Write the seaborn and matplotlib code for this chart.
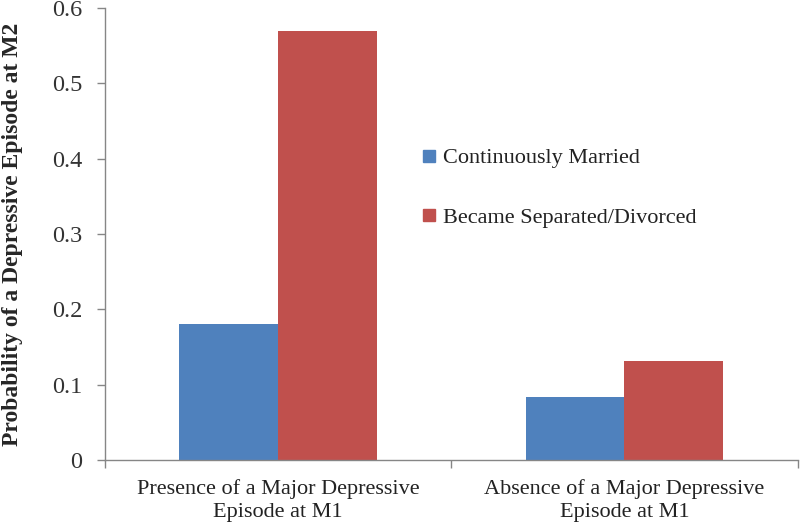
import matplotlib
matplotlib.use("Agg")
import matplotlib.pyplot as plt
import seaborn as sns
import pandas as pd
from matplotlib.lines import Line2D
from matplotlib.ticker import FixedLocator

categories = ["Presence of a Major Depressive\nEpisode at M1", "Absence of a Major Depressive\nEpisode at M1"]
groups = ["Continuously Married", "Became Separated/Divorced"]
married = [0.18, 0.083]
divorced = [0.57, 0.132]
colors = ["#4F81BD", "#C0504D"]

df = pd.DataFrame({
    "cat": categories * 2,
    "group": [groups[0]] * 2 + [groups[1]] * 2,
    "value": married + divorced,
})

sns.set_style("white")
plt.rcParams["font.family"] = ["Liberation Serif", "DejaVu Serif"]

fig = plt.figure(figsize=(8, 5.23), dpi=100)
ax = fig.add_axes([0.131, 0.1205, 0.866, 0.864])
sns.barplot(data=df, x="cat", y="value", hue="group", palette=colors,
            width=0.57, ax=ax, saturation=1, legend=False, linewidth=0)

ax.set_xlim(-0.5, 1.5)
ax.set_ylim(0, 0.6)
ax.set_yticks([0, 0.1, 0.2, 0.3, 0.4, 0.5, 0.6])
ax.set_yticklabels(["0", "0.1", "0.2", "0.3", "0.4", "0.5", "0.6"], fontsize=17.5, color="#333333")
ax.set_xticks([0, 1])
ax.set_xticklabels(categories, fontsize=16, color="#222222", linespacing=1.25)
ax.xaxis.set_minor_locator(FixedLocator([-0.5, 0.5, 1.5]))
ax.tick_params(axis="x", which="major", length=0, pad=14)
ax.tick_params(axis="x", which="minor", length=6, color="#868686", width=1, direction="out", bottom=True)
ax.tick_params(axis="y", length=6, color="#868686", width=1, direction="out", left=True, pad=10)
ax.set_xlabel("")
ax.set_ylabel("Probability of a Depressive Episode at M2", fontsize=17, fontweight="bold")
ax.yaxis.set_label_coords(-0.118, 0.5)

for s in ["top", "right"]:
    ax.spines[s].set_visible(False)
for s in ["left", "bottom"]:
    ax.spines[s].set_color("#868686")
    ax.spines[s].set_linewidth(1)

handles = [Line2D([0], [0], marker="s", linestyle="none", markersize=9,
                  markerfacecolor=c, markeredgecolor=c) for c in colors]
ax.legend(handles, groups, loc="upper left", bbox_to_anchor=(0.43, 0.735),
          frameon=False, fontsize=16, handlelength=0.6, handletextpad=0.3,
          labelspacing=1.75, labelcolor="#222222")

fig.savefig("out.png", dpi=100)
